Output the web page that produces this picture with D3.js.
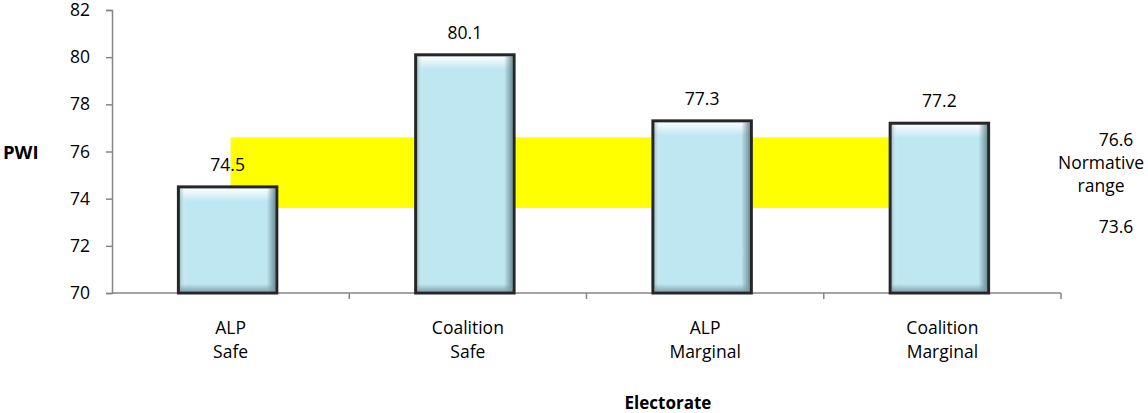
<!DOCTYPE html>
<html>
<head>
<meta charset="utf-8">
<script src="https://cdn.jsdelivr.net/npm/d3@7"></script>
<style>
body{margin:0;background:#fff;}
text{font-family:"Open Sans","Noto Sans",sans-serif;fill:#000;}
</style>
</head>
<body>
<svg id="chart" width="1148" height="413"></svg>
<script>
const categories = [["ALP","Safe"],["Coalition","Safe"],["ALP","Marginal"],["Coalition","Marginal"]];
const values = [74.5, 80.1, 77.3, 77.2];
const yTicks = [70,72,74,76,78,80,82];
const normLow = 73.6, normHigh = 76.6;
const yTitle = "PWI", xTitle = "Electorate";
const rangeLabel = ["Normative","range"];

const svg = d3.select("#chart");
const mLeft = 112, mRight = 1061, mTop = 10, mBottom = 293;
const FS = 17.5;

const x = d3.scaleBand().domain(d3.range(categories.length)).range([mLeft, mRight]).paddingInner(0.585).paddingOuter(0.2925);
const xc = d3.scaleBand().domain(d3.range(categories.length)).range([mLeft, mRight]);
const y = d3.scaleLinear().domain([70, 82]).range([mBottom, mTop]);

const defs = svg.append("defs");
const gTop = defs.append("linearGradient").attr("id","gTop").attr("x1",0).attr("y1",0).attr("x2",0).attr("y2",1);
gTop.append("stop").attr("offset",0).attr("stop-color","#ffffff").attr("stop-opacity",0.95);
gTop.append("stop").attr("offset",1).attr("stop-color","#ffffff").attr("stop-opacity",0);
const gRight = defs.append("linearGradient").attr("id","gRight").attr("x1",0).attr("y1",0).attr("x2",1).attr("y2",0);
gRight.append("stop").attr("offset",0).attr("stop-color","#5f818a").attr("stop-opacity",0);
gRight.append("stop").attr("offset",1).attr("stop-color","#5f818a").attr("stop-opacity",0.85);
const gBot = defs.append("linearGradient").attr("id","gBot").attr("x1",0).attr("y1",0).attr("x2",0).attr("y2",1);
gBot.append("stop").attr("offset",0).attr("stop-color","#7c9ca5").attr("stop-opacity",0);
gBot.append("stop").attr("offset",1).attr("stop-color","#7c9ca5").attr("stop-opacity",0.85);
const gLeft = defs.append("linearGradient").attr("id","gLeft").attr("x1",0).attr("y1",0).attr("x2",1).attr("y2",0);
gLeft.append("stop").attr("offset",0).attr("stop-color","#8aa9b1").attr("stop-opacity",0.6);
gLeft.append("stop").attr("offset",1).attr("stop-color","#ffffff").attr("stop-opacity",0);

// normative band (area from first to last category centre)
const band = d3.area()
  .x(i => xc(i) + xc.bandwidth()/2)
  .y0(() => y(normLow)).y1(() => y(normHigh));
svg.append("path").datum(d3.range(categories.length)).attr("d", band).attr("fill","#ffff00");

// axes
const yAxis = svg.append("g").attr("transform",`translate(${mLeft},0)`)
  .call(d3.axisLeft(y).tickValues(yTicks).tickSize(6).tickPadding(16).tickFormat(d3.format("d")));
yAxis.select(".domain").attr("stroke","#868686").attr("stroke-width",1.5);
yAxis.selectAll(".tick line").attr("stroke","#868686").attr("stroke-width",1.5);
yAxis.selectAll(".tick text").attr("font-size",FS).attr("font-family","'Open Sans',sans-serif").attr("fill","#000");

const xg = svg.append("g").attr("transform",`translate(0,${mBottom})`);
xg.append("line").attr("x1",mLeft).attr("x2",mRight).attr("stroke","#868686").attr("stroke-width",1.5);
xg.selectAll("line.tk").data(d3.range(1, categories.length+1)).join("line").attr("class","tk")
  .attr("x1", i => i < categories.length ? xc(i) : mRight).attr("x2", i => i < categories.length ? xc(i) : mRight)
  .attr("y1",0).attr("y2",6).attr("stroke","#868686").attr("stroke-width",1.5);

// bars
const off = -3;
const bw = x.bandwidth();
const bars = svg.append("g").selectAll("g").data(values).join("g")
  .attr("transform",(d,i)=>`translate(${x(i)+off},${y(d)})`);
bars.append("rect").attr("width",bw).attr("height",d=>mBottom-y(d))
  .attr("fill","#bfe7f1");
bars.append("rect").attr("x",1.5).attr("y",1.5).attr("width",bw-3).attr("height",13).attr("fill","url(#gTop)");
bars.append("rect").attr("x",1.5).attr("y",1.5).attr("width",6).attr("height",d=>mBottom-y(d)-3).attr("fill","url(#gLeft)");
bars.append("rect").attr("x",bw-10).attr("y",1.5).attr("width",8.5).attr("height",d=>mBottom-y(d)-3).attr("fill","url(#gRight)");
bars.append("rect").attr("x",1.5).attr("y",d=>mBottom-y(d)-9).attr("width",bw-3).attr("height",7.5).attr("fill","url(#gBot)");
bars.append("rect").attr("width",bw).attr("height",d=>mBottom-y(d))
  .attr("fill","none").attr("stroke","#262626").attr("stroke-width",3);

// value labels
svg.append("g").selectAll("text").data(values).join("text")
  .attr("x",(d,i)=>x(i)+off+bw/2).attr("y",d=>y(d)-16)
  .attr("text-anchor","middle").attr("font-size",FS).text(d=>d.toFixed(1));

// category labels
const cl = svg.append("g").selectAll("text").data(categories).join("text")
  .attr("x",(d,i)=>xc(i)+xc.bandwidth()/2).attr("y",334)
  .attr("text-anchor","middle").attr("font-size",FS);
cl.append("tspan").attr("x",(d,i)=>xc(i)+xc.bandwidth()/2).text(d=>d[0]);
cl.append("tspan").attr("x",(d,i)=>xc(i)+xc.bandwidth()/2).attr("dy",24).text(d=>d[1]);

// titles
svg.append("text").attr("x",3).attr("y",159).attr("font-size",18.5).attr("font-weight","bold").text(yTitle);
svg.append("text").attr("x",668).attr("y",409).attr("text-anchor","middle").attr("font-size",17).attr("font-weight","bold").text(xTitle);

// normative range annotation
svg.append("text").attr("x",1116).attr("y",146).attr("text-anchor","middle").attr("font-size",FS).text(normHigh.toFixed(1));
svg.append("text").attr("x",1101).attr("y",169).attr("text-anchor","middle").attr("font-size",FS).text(rangeLabel[0]);
svg.append("text").attr("x",1101).attr("y",192).attr("text-anchor","middle").attr("font-size",FS).text(rangeLabel[1]);
svg.append("text").attr("x",1116).attr("y",233).attr("text-anchor","middle").attr("font-size",FS).text(normLow.toFixed(1));
</script>
</body>
</html>
